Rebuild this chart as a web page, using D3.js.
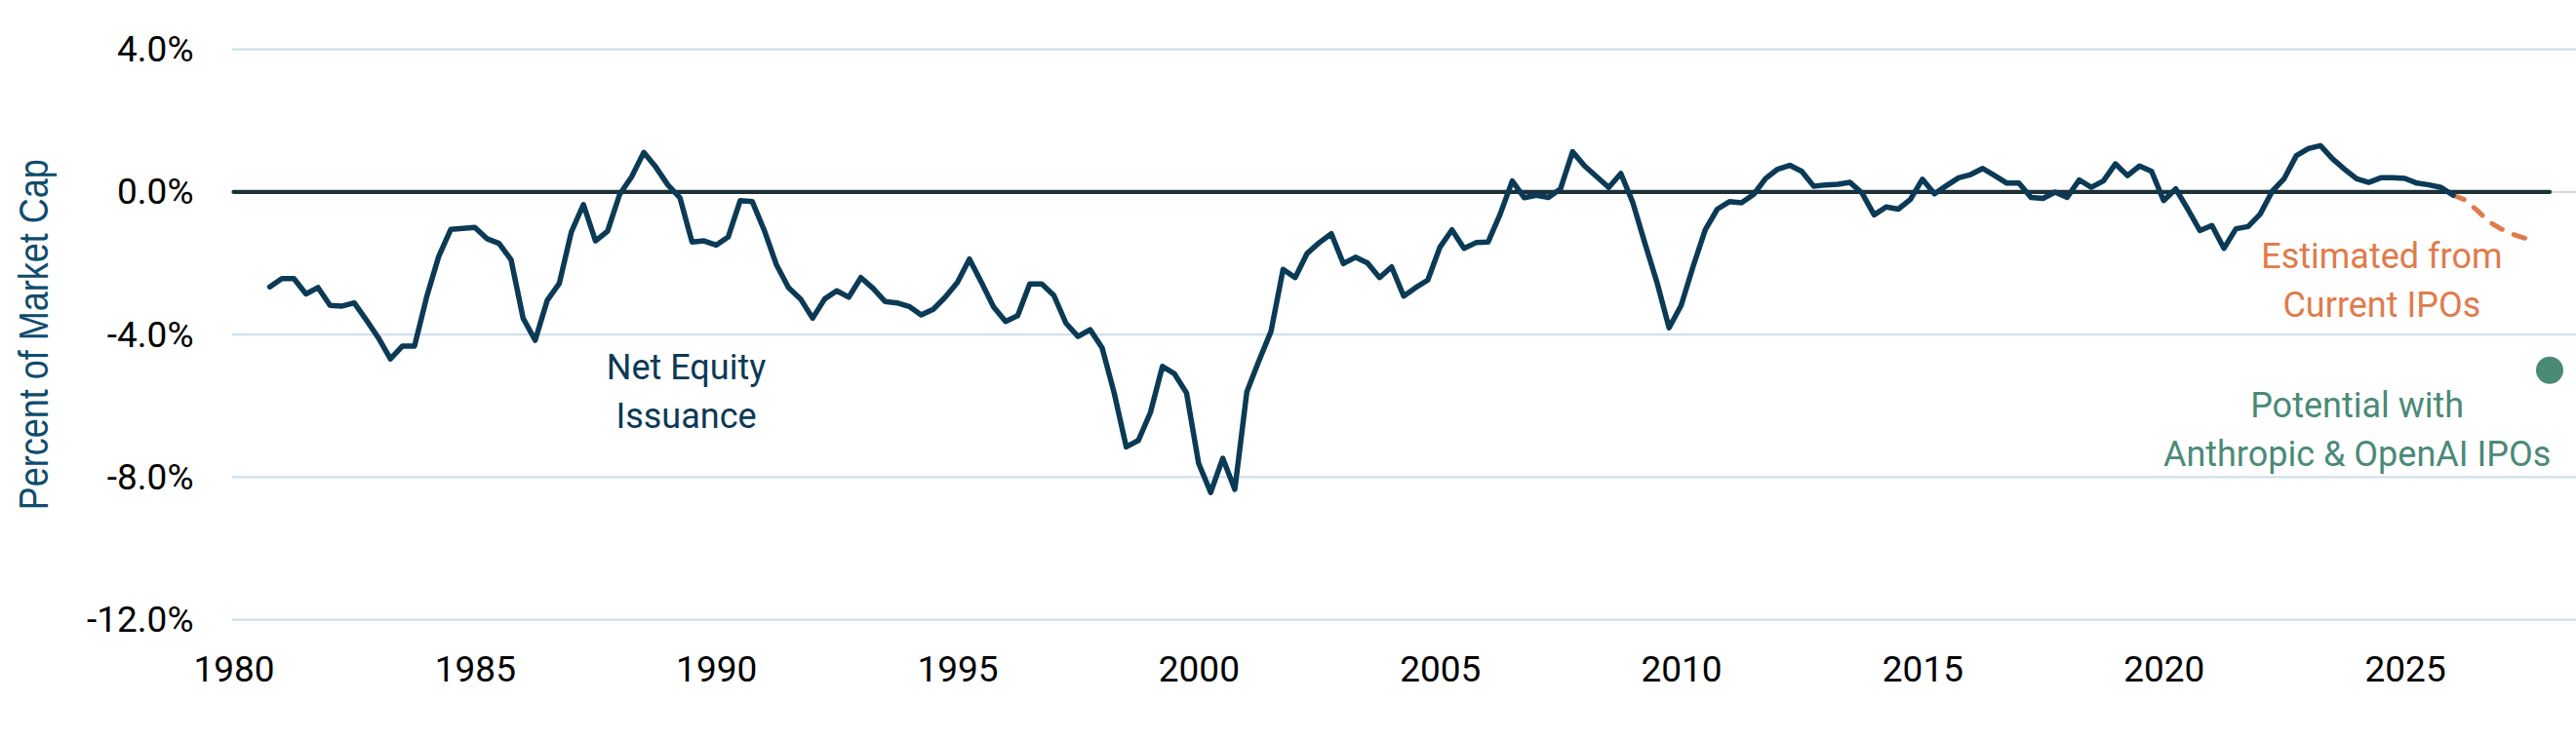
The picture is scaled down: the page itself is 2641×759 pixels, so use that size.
<!DOCTYPE html>
<html>
<head>
<meta charset="utf-8">
<script src="https://cdn.jsdelivr.net/npm/d3@7/dist/d3.min.js"></script>
<style>
  body { margin: 0; background: #fff; }
  svg { display: block; }
</style>
</head>
<body>
<svg id="chart" width="2641" height="759"></svg>
<script>
// net equity issuance, percent of market cap, quarterly from 1980 Q4
var issuance = [
  -2.66, -2.43, -2.43, -2.86, -2.68, -3.18, -3.20, -3.11, -3.59, -4.09,
  -4.68, -4.32, -4.32, -2.95, -1.81, -1.05, -1.02, -0.99, -1.31, -1.44,
  -1.90, -3.54, -4.16, -3.04, -2.56, -1.12, -0.35, -1.37, -1.10, -0.07,
  0.43, 1.11, 0.70, 0.20, -0.16, -1.40, -1.37, -1.49, -1.26, -0.24,
  -0.27, -1.08, -2.04, -2.68, -3.00, -3.54, -3.00, -2.77, -2.95, -2.40,
  -2.70, -3.07, -3.11, -3.21, -3.45, -3.29, -2.95, -2.54, -1.88, -2.54,
  -3.22, -3.63, -3.47, -2.58, -2.58, -2.90, -3.68, -4.05, -3.86, -4.37,
  -5.64, -7.15, -6.97, -6.19, -4.89, -5.10, -5.64, -7.61, -8.43, -7.47,
  -8.34, -5.60, -4.73, -3.91, -2.17, -2.40, -1.72, -1.42, -1.17, -2.01,
  -1.83, -1.99, -2.40, -2.10, -2.92, -2.68, -2.47, -1.55, -1.06, -1.58,
  -1.42, -1.40, -0.62, 0.31, -0.16, -0.09, -0.15, 0.09, 1.13, 0.73,
  0.43, 0.13, 0.52, -0.30, -1.44, -2.54, -3.81, -3.18, -2.08, -1.06,
  -0.48, -0.27, -0.30, -0.07, 0.38, 0.64, 0.75, 0.58, 0.16, 0.20,
  0.22, 0.27, -0.03, -0.64, -0.42, -0.48, -0.21, 0.36, -0.05, 0.18,
  0.40, 0.49, 0.66, 0.46, 0.25, 0.25, -0.15, -0.18, 0.00, -0.15,
  0.34, 0.13, 0.31, 0.79, 0.46, 0.73, 0.58, -0.24, 0.09, -0.48,
  -1.08, -0.94, -1.58, -1.03, -0.97, -0.62, 0.02, 0.38, 1.02, 1.22,
  1.30, 0.93, 0.64, 0.37, 0.27, 0.40, 0.40, 0.38, 0.25, 0.20,
  0.13, -0.09
];
// estimate from current IPOs, starts at the last actual quarter
var estimate = [-0.09, -0.22, -0.52, -0.84, -1.04, -1.19, -1.30];
// potential with Anthropic & OpenAI IPOs
var potentialYear = 2028;
var potentialValue = -5.0;

var firstQuarter = 1980.75;
var quarter = 0.25;

var yTicks = [4, 0, -4, -8, -12];
var xTicks = [1980, 1985, 1990, 1995, 2000, 2005, 2010, 2015, 2020, 2025];

var navy = "#0b3a56";
var orange = "#e07b4b";
var green = "#4a8a77";

var svg = d3.select("#chart");
var W = +svg.attr("width");

var x = d3.scaleLinear().domain([1980, 2028]).range([239.5, 2614]);
var y = d3.scaleLinear().domain([-12, 4]).range([635.7, 50.7]);

var actual = issuance.map(function(v, i) {
  return { date: firstQuarter + i * quarter, value: v };
});
var lastDate = actual[actual.length - 1].date;
var est = estimate.map(function(v, i) {
  return { date: lastDate + i * quarter, value: v };
});

// gridlines
svg.append("g")
  .selectAll("line")
  .data(yTicks)
  .enter()
  .append("line")
  .attr("x1", x(1980) - 1.5)
  .attr("x2", W)
  .attr("y1", function(d) { return y(d); })
  .attr("y2", function(d) { return y(d); })
  .attr("stroke", function(d) { return d === 0 ? "#d9d9d9" : "#cfe0ea"; })
  .attr("stroke-width", 2.2);

// zero line
svg.append("line")
  .attr("x1", x(1980))
  .attr("x2", x(2028))
  .attr("y1", y(0))
  .attr("y2", y(0))
  .attr("stroke", "#1d3038")
  .attr("stroke-width", 4.2)
  .attr("stroke-linecap", "round");

// axes
var yAxis = svg.append("g")
  .attr("transform", "translate(" + x(1980) + ",0)")
  .call(d3.axisLeft(y)
    .tickValues(yTicks)
    .tickSize(0)
    .tickPadding(41)
    .tickFormat(function(d) { return d.toFixed(1) + "%"; }));
yAxis.select(".domain").remove();
yAxis.selectAll("text")
  .attr("fill", "#000")
  .style("font-family", "Roboto, sans-serif")
  .style("font-size", "37px");

var xAxis = svg.append("g")
  .attr("transform", "translate(0," + y(-12) + ")")
  .call(d3.axisBottom(x)
    .tickValues(xTicks)
    .tickSize(0)
    .tickPadding(37)
    .tickFormat(d3.format("d")));
xAxis.select(".domain").remove();
xAxis.selectAll("text")
  .attr("fill", "#000")
  .style("font-family", "Roboto, sans-serif")
  .style("font-size", "37px");

// y axis title
svg.append("text")
  .attr("transform", "translate(49," + y(-4) + ") rotate(-90)")
  .attr("text-anchor", "middle")
  .attr("textLength", 360)
  .attr("lengthAdjust", "spacingAndGlyphs")
  .attr("fill", "#0f4c6e")
  .style("font-family", "'Liberation Sans Narrow', 'Liberation Sans', sans-serif")
  .style("font-size", "42px")
  .text("Percent of Market Cap");

var line = d3.line()
  .x(function(d) { return x(d.date); })
  .y(function(d) { return y(d.value); });

svg.append("path")
  .datum(est)
  .attr("d", line)
  .attr("fill", "none")
  .attr("stroke", orange)
  .attr("stroke-width", 5)
  .attr("stroke-linecap", "round")
  .attr("stroke-dasharray", "12,13");

svg.append("path")
  .datum(actual)
  .attr("d", line)
  .attr("fill", "none")
  .attr("stroke", navy)
  .attr("stroke-width", 5.5)
  .attr("stroke-linejoin", "round")
  .attr("stroke-linecap", "round");

svg.append("circle")
  .attr("cx", x(potentialYear))
  .attr("cy", y(potentialValue))
  .attr("r", 14)
  .attr("fill", green);

// annotations
var notes = [
  { lines: ["Net Equity", "Issuance"], date: 1989.38, value: -5.25, color: navy },
  { lines: ["Estimated from", "Current IPOs"], date: 2024.52, value: -2.13, color: orange },
  { lines: ["Potential with", "Anthropic & OpenAI IPOs"], date: 2024.01, value: -6.33, color: green }
];

notes.forEach(function(n) {
  var t = svg.append("text")
    .attr("x", x(n.date))
    .attr("y", y(n.value))
    .attr("text-anchor", "middle")
    .attr("fill", n.color)
    .style("font-family", "Roboto, sans-serif")
    .style("font-size", "36px");
  t.selectAll("tspan")
    .data(n.lines)
    .enter()
    .append("tspan")
    .attr("x", x(n.date))
    .attr("dy", function(d, i) { return i === 0 ? 0 : 50; })
    .text(function(d) { return d; });
});
</script>
</body>
</html>
